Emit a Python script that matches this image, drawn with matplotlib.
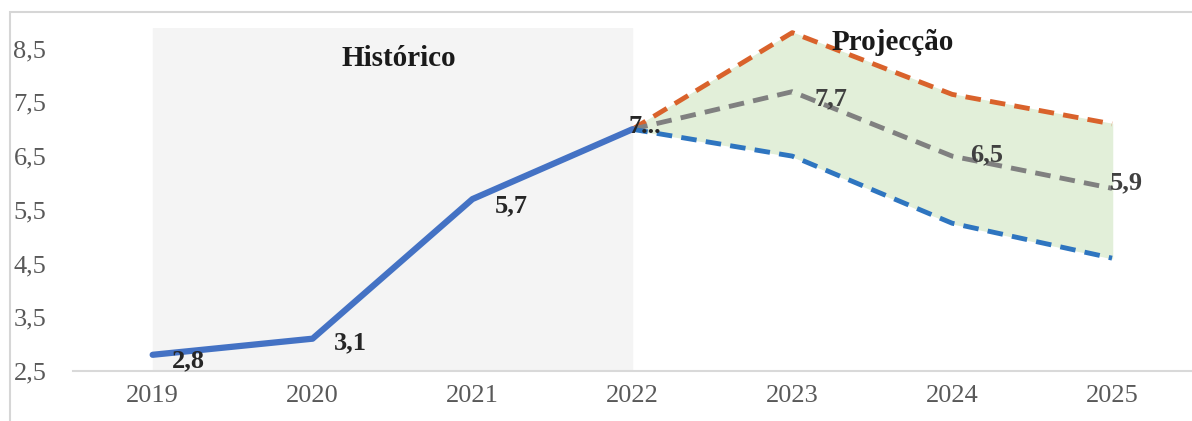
import matplotlib.pyplot as plt
from matplotlib.patches import Rectangle

# Dane
anos = ['2019', '2020', '2021', '2022', '2023', '2024', '2025']
historico = [2.8, 3.1, 5.7, 7.0]
superior = [7.0, 8.8, 7.65, 7.1]
central = [7.0, 7.7, 6.5, 5.9]
inferior = [7.0, 6.5, 5.25, 4.6]
rotulos_hist = ['2,8', '3,1', '5,7', '7...']
rotulos_proj = ['7,7', '6,5', '5,9']
yticks = [2.5, 3.5, 4.5, 5.5, 6.5, 7.5, 8.5]

plt.rcParams['font.family'] = ['Liberation Serif', 'DejaVu Serif']

fig = plt.figure(figsize=(11.92, 4.21), dpi=100)
ax = fig.add_axes([0.061, 0.119, 0.939, 0.815])

# moldura clara
fig.patches.append(Rectangle((10 / 1192, -0.1), 1.2, 1 - 12 / 421 + 0.1, transform=fig.transFigure,
                             fill=False, edgecolor='#d6d6d6', linewidth=1.5))

x_hist = list(range(len(historico)))
x_proj = list(range(3, 3 + len(superior)))

# fundo histórico
ax.axvspan(0, 3, color='#f4f4f4', zorder=0)
ax.fill_between(x_proj, inferior, superior, color='#e2efd9', zorder=1)

tracos = (3.2, 1.9)
ax.plot(x_hist, historico, color='#4472c4', linewidth=4.5, solid_capstyle='round', zorder=4)
ax.plot(x_proj, superior, color='#d9622b', linewidth=3.5, dashes=tracos, zorder=3)
ax.plot(x_proj, central, color='#808080', linewidth=3.5, dashes=tracos, zorder=3)
ax.plot(x_proj, inferior, color='#2e75c0', linewidth=3.5, dashes=tracos, zorder=3)

offs_hist = [(26, -4), (27, -3), (28, -5), (9, 2)]
for i, (v, t) in enumerate(zip(historico, rotulos_hist)):
    ax.annotate(t, (x_hist[i], v), xytext=offs_hist[i], textcoords='offset points',
                ha='center', va='center', fontsize=19, fontweight='bold', color='#262626', zorder=5)
offs_proj = [(28, -5), (25, 1), (10, 4)]
for i, (v, t) in enumerate(zip(central[1:], rotulos_proj)):
    ax.annotate(t, (x_proj[i + 1], v), xytext=offs_proj[i], textcoords='offset points',
                ha='center', va='center', fontsize=19, fontweight='bold', color='#404040', zorder=5)

ax.text(1.54, 8.32, 'Histórico', ha='center', va='center', fontsize=21, fontweight='bold', color='#1a1a1a')
ax.text(4.63, 8.62, 'Projecção', ha='center', va='center', fontsize=21, fontweight='bold', color='#1a1a1a')

ax.set_xlim(-0.5, 6.5)
ax.set_ylim(2.5, 8.89)
ax.set_xticks(range(len(anos)))
ax.set_xticklabels(anos)
ax.set_yticks(yticks)
ax.set_yticklabels([str(v).replace('.', ',') for v in yticks])
ax.tick_params(length=0, labelsize=19, labelcolor='#595959')
ax.tick_params(axis='y', pad=19)
ax.tick_params(axis='x', pad=10)
for s in ['top', 'right', 'left']:
    ax.spines[s].set_visible(False)
ax.spines['bottom'].set_color('#d9d9d9')
ax.spines['bottom'].set_linewidth(1.5)
ax.patch.set_alpha(0)

fig.savefig('out.png', dpi=100)
